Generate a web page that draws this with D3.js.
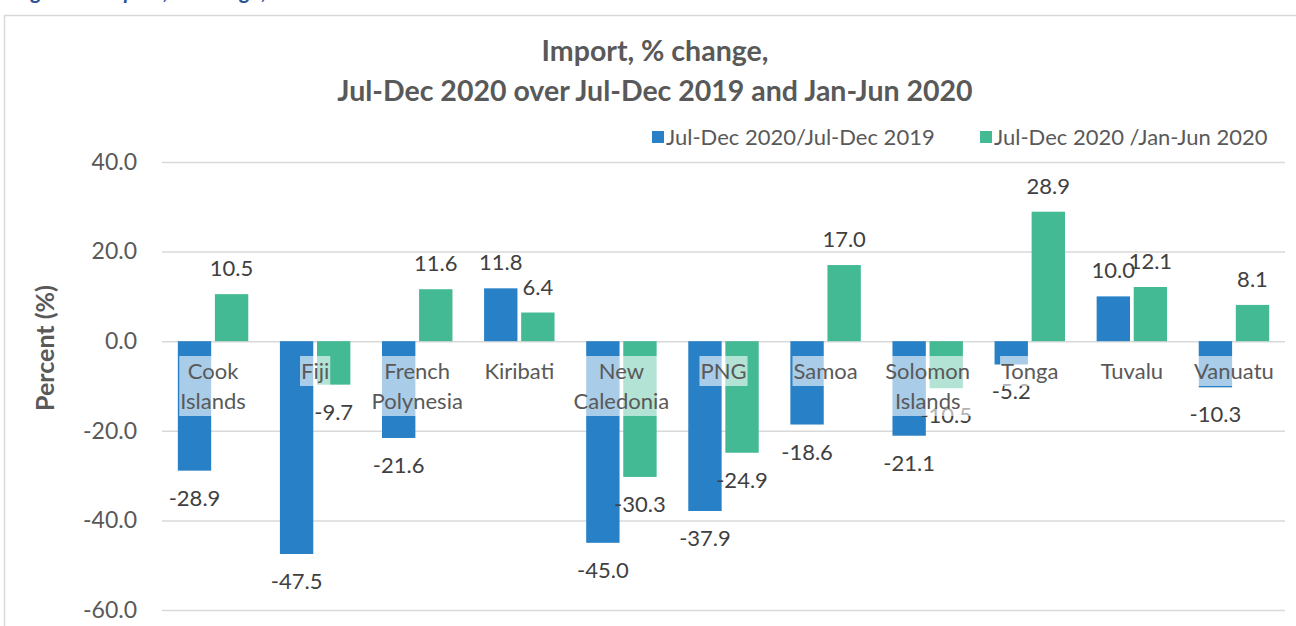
<!DOCTYPE html>
<html>
<head>
<meta charset="utf-8">
<script src="https://cdn.jsdelivr.net/npm/d3@7"></script>
<style>
  html, body { margin: 0; padding: 0; background: #fff; }
  svg { display: block; font-family: Lato, "Open Sans", sans-serif; }
</style>
</head>
<body>
<div id="chart"></div>
<script>
(function(){
  // data
  const categories = ["Cook Islands", "Fiji", "French Polynesia", "Kiribati", "New Caledonia",
    "PNG", "Samoa", "Solomon Islands", "Tonga", "Tuvalu", "Vanuatu"];
  const seriesNames = ["Jul-Dec 2020/Jul-Dec 2019", "Jul-Dec 2020 /Jan-Jun 2020"];
  const overJulDec2019 = [-28.9, -47.5, -21.6, 11.8, -45.0, -37.9, -18.6, -21.1, -5.2, 10.0, -10.3];
  const overJanJun2020 = [10.5, -9.7, 11.6, 6.4, -30.3, -24.9, 17.0, -10.5, 28.9, 12.1, 8.1];
  const yTicks = [-60, -40, -20, 0, 20, 40];
  const titleLines = ["Import, % change,", "Jul-Dec 2020 over Jul-Dec 2019 and Jan-Jun 2020"];
  const colors = ["#2880c6", "#43b994"];

  const width = 1296;
  const height = 626;

  const rows = categories.map((c, i) => ({
    cat: c,
    vals: [overJulDec2019[i], overJanJun2020[i]]
  }));

  // plain hyphen for negatives, like the source chart
  const fmt = d3.formatLocale({
    decimal: ".", thousands: ",", grouping: [3], currency: ["", ""], minus: "-"
  }).format(".1f");

  const svg = d3.select("#chart")
    .append("svg")
    .attr("width", width)
    .attr("height", height);

  // figure caption, cut off at the top of the picture
  svg.append("text")
    .attr("x", 14)
    .attr("y", -1.5)
    .attr("fill", "#2f5597")
    .style("font-size", "22px")
    .style("font-weight", "bold")
    .style("font-style", "italic")
    .text("Figure 4: Import, % change, Jul-Dec 2020 over Jul-Dec 2019 and Jan-Jun 2020");

  // chart frame
  svg.append("rect")
    .attr("x", 4.5)
    .attr("y", 15.5)
    .attr("width", 1320)
    .attr("height", 640)
    .attr("fill", "none")
    .attr("stroke", "#d9d9d9")
    .attr("stroke-width", 1.5);

  const x = d3.scaleBand()
    .domain(categories)
    .range([162, 1285])
    .paddingInner(0.31)
    .paddingOuter(0.155);

  const xs = d3.scaleBand()
    .domain([0, 1])
    .range([0, x.bandwidth()])
    .paddingInner(0.1);

  const y = d3.scaleLinear()
    .domain([-60, 40])
    .range([610, 162]);

  // gridlines + tick labels
  const yAxis = d3.axisLeft(y)
    .tickValues(yTicks)
    .tickFormat(fmt)
    .tickSize(-(1285 - 162))
    .tickPadding(25);

  const ga = svg.append("g")
    .attr("transform", "translate(162,0)")
    .call(yAxis);
  ga.select(".domain").remove();
  ga.selectAll(".tick line")
    .attr("stroke", "#d9d9d9")
    .attr("stroke-width", 1.5);
  ga.selectAll(".tick text")
    .attr("fill", "#595959")
    .style("font-size", "23px")
    .style("font-family", "Lato, sans-serif");

  svg.append("text")
    .attr("transform", "translate(54,348) rotate(-90)")
    .attr("text-anchor", "middle")
    .attr("fill", "#595959")
    .style("font-size", "25px")
    .style("font-weight", "bold")
    .text("Percent (%)");

  // title
  svg.append("g")
    .selectAll("text")
    .data(titleLines)
    .enter().append("text")
    .attr("x", 655)
    .attr("y", (d, i) => 61 + i * 40)
    .attr("text-anchor", "middle")
    .attr("fill", "#595959")
    .style("font-size", "28.5px")
    .style("font-weight", "bold")
    .text(d => d);

  // legend
  const legendX = [652, 980];
  const legend = svg.append("g")
    .selectAll("g")
    .data(seriesNames)
    .enter().append("g")
    .attr("transform", (d, i) => `translate(${legendX[i]},131)`);
  legend.append("rect")
    .attr("width", 12)
    .attr("height", 12)
    .attr("fill", (d, i) => colors[i]);
  legend.append("text")
    .attr("x", 14)
    .attr("y", 14)
    .attr("fill", "#595959")
    .style("font-size", "22px")
    .text(d => d);

  // bars
  const groups = svg.append("g")
    .selectAll("g")
    .data(rows)
    .enter().append("g")
    .attr("transform", d => `translate(${x(d.cat)},0)`);

  groups.selectAll("rect")
    .data(d => d.vals)
    .enter().append("rect")
    .attr("x", (d, i) => xs(i))
    .attr("width", xs.bandwidth())
    .attr("y", d => y(Math.max(0, d)))
    .attr("height", d => Math.abs(y(d) - y(0)))
    .attr("fill", (d, i) => colors[i]);

  // category labels with semi-transparent white box
  const catLayer = svg.append("g");
  rows.forEach(r => {
    const cx = x(r.cat) + x.bandwidth() / 2;
    const lines = r.cat.split(" ");
    const g = catLayer.append("g");
    const t = g.append("text")
      .attr("text-anchor", "middle")
      .attr("fill", "#595959")
      .style("font-size", "22px");
    lines.forEach((ln, i) => {
      t.append("tspan").attr("x", cx).attr("y", 379 + i * 30).text(ln);
    });
    const bb = t.node().getBBox();
    g.insert("rect", "text")
      .attr("x", bb.x - 1)
      .attr("y", 356)
      .attr("width", bb.width + 2)
      .attr("height", lines.length * 30)
      .attr("fill", "#fff")
      .attr("fill-opacity", 0.6);
  });

  // data labels
  groups.selectAll(".val")
    .data(d => d.vals)
    .enter().append("text")
    .attr("class", "val")
    .attr("x", (d, i) => xs(i) + xs.bandwidth() / 2)
    .attr("y", d => d >= 0 ? y(d) - 18 : y(d) + 35)
    .attr("text-anchor", "middle")
    .attr("fill", "#404040")
    .style("font-size", "22px")
    .text(d => fmt(d));
})();
</script>
</body>
</html>
